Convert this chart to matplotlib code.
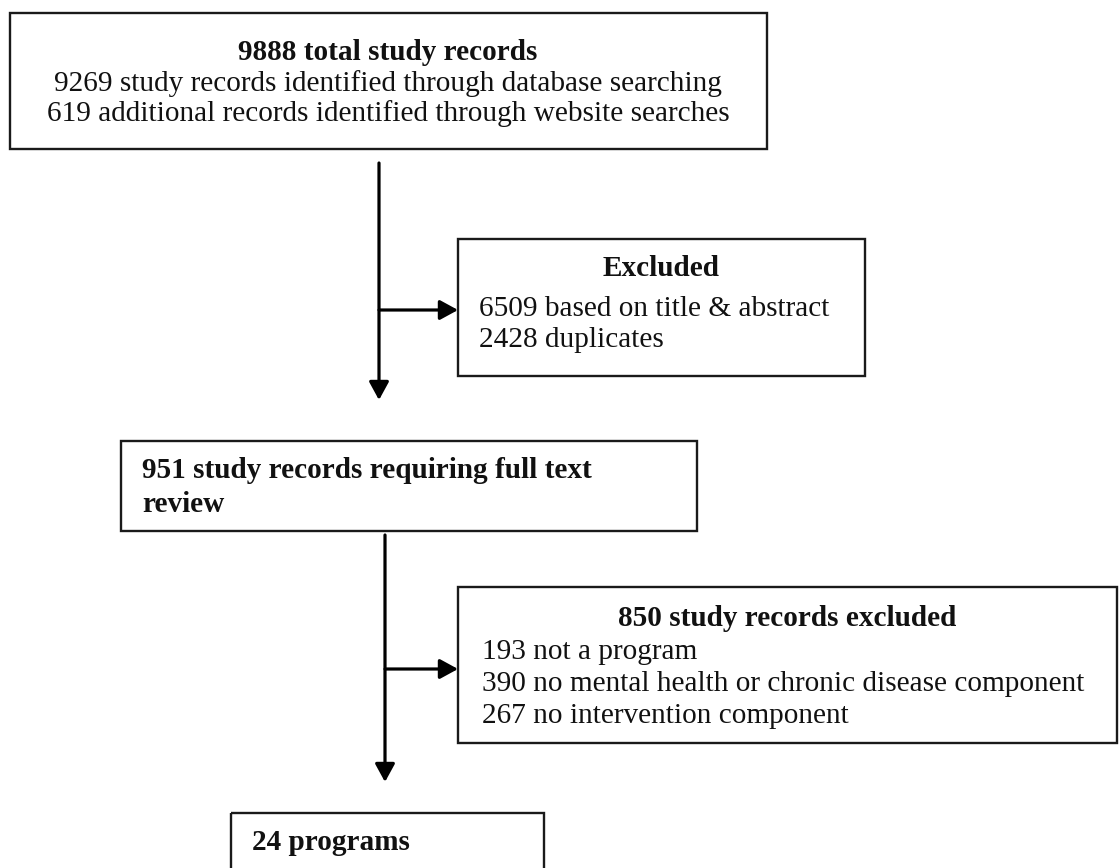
import matplotlib.pyplot as plt
from matplotlib.patches import Rectangle

# counts shown in the flow diagram
total_records = 9888
identified_labels = ["study records identified through database searching",
                     "additional records identified through website searches"]
identified_counts = [9269, 619]
first_excl_labels = ["based on title & abstract", "duplicates"]
first_excl_counts = [6509, 2428]
full_text_records = 951
second_excl_total = 850
second_excl_labels = ["not a program",
                      "no mental health or chronic disease component",
                      "no intervention component"]
second_excl_counts = [193, 390, 267]
final_programs = 24

plt.rcParams['font.family'] = ['Liberation Serif', 'DejaVu Serif']

fig = plt.figure(figsize=(11.2, 8.68), dpi=100)
ax = fig.add_axes([0, 0, 1, 1])
ax.set_xlim(0, 1120)
ax.set_ylim(868, 0)
ax.axis('off')

FS = 21.1


def box(x0, y0, x1, y1):
    ax.add_patch(Rectangle((x0, y0), x1 - x0, y1 - y0, fill=False,
                           lw=1.7, ec='#1a1a1a', clip_on=False))


def arrow(x0, y0, x1, y1):
    ax.annotate('', xy=(x1, y1), xytext=(x0, y0),
                arrowprops=dict(arrowstyle='-|>,head_length=0.55,head_width=0.3',
                                lw=2.3, color='black', mutation_scale=20,
                                shrinkA=0, shrinkB=0))


def line(x, y, text, bold=False, ha='left', size=FS):
    ax.text(x, y, text, ha=ha, va='center', fontsize=size,
            fontweight='bold' if bold else 'normal', color='#111111')


# box 1
box(10, 13, 767, 149)
line(388, 53, f"{total_records} total study records", bold=True, ha='center')
for i, (lab, n) in enumerate(zip(identified_labels, identified_counts)):
    line(388, 84 + i * 30, f"{n} {lab}", ha='center')

# first exclusion
arrow(379, 163, 379, 400)
arrow(379, 310, 458, 310)
box(458, 239, 865, 376)
line(661, 268, "Excluded", bold=True, ha='center')
for i, (lab, n) in enumerate(zip(first_excl_labels, first_excl_counts)):
    line(479, 309 + i * 31, f"{n} {lab}")

# full text review
box(121, 441, 697, 531)
line(142, 470, f"{full_text_records} study records requiring full text", bold=True)
line(142, 505, "review", bold=True)

# second exclusion
arrow(385, 535, 385, 782)
arrow(385, 669, 458, 669)
box(458, 587, 1117, 743)
line(787, 618, f"{second_excl_total} study records excluded", bold=True, ha='center')
for i, (lab, n) in enumerate(zip(second_excl_labels, second_excl_counts)):
    line(482, 652 + i * 32, f"{n} {lab}")

# final
box(231, 813, 544, 900)
line(252, 843, f"{final_programs} programs", bold=True)

fig.savefig('out.png', dpi=100)
